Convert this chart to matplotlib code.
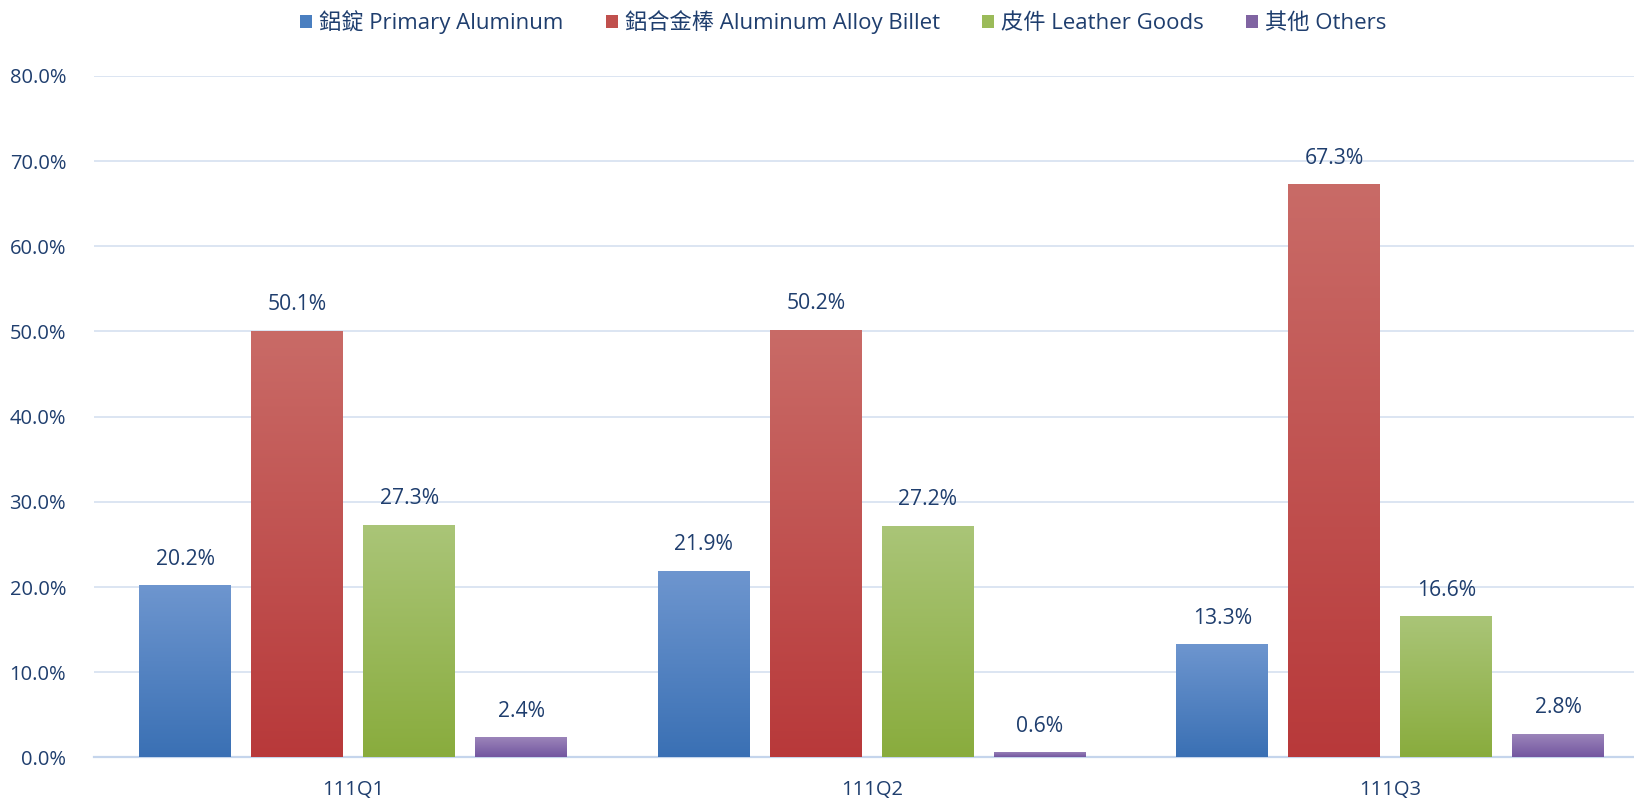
import matplotlib
matplotlib.use("Agg")
import matplotlib.pyplot as plt
import numpy as np
from matplotlib.colors import LinearSegmentedColormap
from matplotlib.patches import Patch

plt.rcParams['font.family'] = ['Open Sans', 'Noto Sans CJK TC', 'DejaVu Sans']

categories = ["111Q1", "111Q2", "111Q3"]
series_names = ["鋁錠 Primary Aluminum", "鋁合金棒 Aluminum Alloy Billet", "皮件 Leather Goods", "其他 Others"]
primary = [20.2, 21.9, 13.3]
billet = [50.1, 50.2, 67.3]
leather = [27.3, 27.2, 16.6]
others = [2.4, 0.6, 2.8]
values = [primary, billet, leather, others]
yticks = [0, 10, 20, 30, 40, 50, 60, 70, 80]

tops = ["#6e96cf", "#c96b67", "#aac578", "#9d87bb"]
bottoms = ["#3a70b4", "#b8393a", "#89ac3d", "#7356a0"]
legend_cols = ["#4a7fc0", "#c0504d", "#9bbb59", "#8064a2"]
text_col = "#1f3e6e"

fig = plt.figure(figsize=(16.34, 7.99), dpi=100)
ax = fig.add_axes([0.0575, 0.052, 0.9425, 0.853])

width = 0.177
step = 0.216
x = np.arange(len(categories))

for i, (vals, top, bot) in enumerate(zip(values, tops, bottoms)):
    xs = x + (i - 1.5) * step
    bars = ax.bar(xs, vals, width, color=bot, zorder=2, linewidth=0)
    cmap = LinearSegmentedColormap.from_list("g%d" % i, [bot, top])
    for b, v in zip(bars, vals):
        grad = np.linspace(0, 1, 256).reshape(-1, 1)
        im = ax.imshow(grad, cmap=cmap, origin='lower', aspect='auto',
                       extent=[b.get_x(), b.get_x() + b.get_width(), 0, v],
                       zorder=3, interpolation='bilinear')
        im.set_clip_path(b)
        ax.annotate(f"{v:.1f}%", (b.get_x() + b.get_width() / 2, v),
                    xytext=(0, 26), textcoords='offset pixels',
                    ha='center', va='center', fontsize=15.2, color=text_col, zorder=5)

ax.set_xlim(-0.5, 2.47)
ax.set_ylim(0, 80)
ax.set_yticks(yticks)
ax.set_yticklabels([f"{t:.1f}%" for t in yticks])
ax.set_xticks(x)
ax.set_xticklabels(categories)
ax.tick_params(axis='both', length=0, labelsize=14.5, labelcolor=text_col)
ax.tick_params(axis='y', pad=20)
ax.tick_params(axis='x', pad=16)
ax.yaxis.grid(True, color="#d9e3f1", linewidth=1.3, zorder=0)
ax.set_axisbelow(True)
for s in ['top', 'right', 'left']:
    ax.spines[s].set_visible(False)
ax.spines['bottom'].set_color("#c5d5ec")
ax.spines['bottom'].set_linewidth(1.6)

handles = [Patch(facecolor=c, edgecolor='none') for c in legend_cols]
leg = fig.legend(handles, series_names, loc='center', bbox_to_anchor=(0.516, 0.972), ncol=4,
                 frameon=False, fontsize=16, handlelength=0.55, handleheight=0.55,
                 handletextpad=0.3, columnspacing=1.9)
for t in leg.get_texts():
    t.set_color(text_col)

fig.savefig("out.png", dpi=100)
